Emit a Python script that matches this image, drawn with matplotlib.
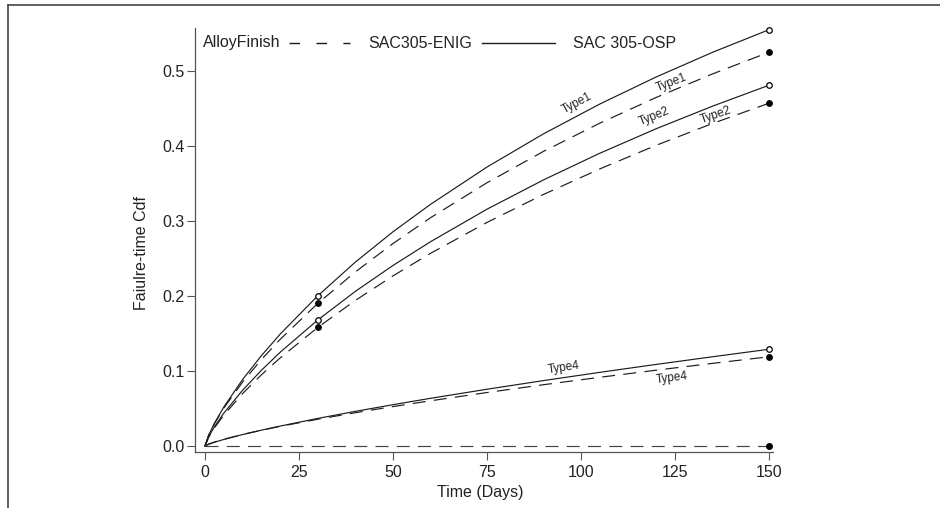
import matplotlib
matplotlib.use("Agg")
import matplotlib.pyplot as plt
from matplotlib.lines import Line2D

plt.rcParams['font.family'] = ['Liberation Sans', 'DejaVu Sans']

# ---- failure-time CDF estimates, by alloy/finish and test type ----
days = [0, 1, 2.5, 5, 10, 15, 20, 30, 40, 50, 60, 75, 90, 105, 120, 135, 150]

osp_type1 = [0.0, 0.0146, 0.0301, 0.0519, 0.0886, 0.1204, 0.1492, 0.2002, 0.2452,
             0.2856, 0.3222, 0.3719, 0.4161, 0.4559, 0.4920, 0.5249, 0.555]
enig_type1 = [0.0, 0.0145, 0.0296, 0.0504, 0.0852, 0.1152, 0.1422, 0.1901, 0.2321,
              0.2699, 0.3044, 0.3510, 0.3927, 0.4304, 0.4647, 0.4961, 0.525]
osp_type2 = [0.0, 0.0125, 0.0255, 0.0437, 0.0743, 0.1009, 0.1250, 0.1680, 0.2062,
             0.2407, 0.2724, 0.3157, 0.3547, 0.3903, 0.4230, 0.4531, 0.481]
enig_type2 = [0.0, 0.0118, 0.0240, 0.0411, 0.0699, 0.0949, 0.1175, 0.1581, 0.1941,
              0.2268, 0.2569, 0.2981, 0.3353, 0.3694, 0.4009, 0.4300, 0.457]
osp_type4 = [0.0, 0.0024, 0.0050, 0.0087, 0.0153, 0.0211, 0.0266, 0.0368, 0.0462,
             0.0551, 0.0636, 0.0757, 0.0872, 0.0982, 0.1088, 0.1190, 0.129]
enig_type4 = [0.0, 0.0026, 0.0053, 0.0090, 0.0154, 0.0210, 0.0262, 0.0357, 0.0444,
              0.0526, 0.0603, 0.0713, 0.0817, 0.0916, 0.1011, 0.1102, 0.119]
# no failures for this group
enig_type3_days = [0, 150]
enig_type3 = [0.0, 0.0]

x_ticks = [0, 25, 50, 75, 100, 125, 150]
y_ticks = [0.0, 0.1, 0.2, 0.3, 0.4, 0.5]

DARK = '#1c1c1c'
AXIS = '#555555'
DASH = (0, (11, 7))

fig = plt.figure(figsize=(9.4, 5.08), dpi=100)
ax = fig.add_axes([0.2074, 0.1102, 0.6149, 0.8347])

curves = [
    (osp_type1, '-', [30, 150], False),
    (enig_type1, DASH, [30, 150], True),
    (osp_type2, '-', [30, 150], False),
    (enig_type2, DASH, [30, 150], True),
    (osp_type4, '-', [150], False),
    (enig_type4, DASH, [150], True),
]
for vals, ls, mark_days, filled in curves:
    ax.plot(days, vals, ls=ls, color=DARK, lw=0.85)
    mx = [d for d in days if d in mark_days]
    my = [v for d, v in zip(days, vals) if d in mark_days]
    ax.plot(mx, my, 'o', ms=4, mew=0.9, mec='black',
            mfc='black' if filled else 'white', clip_on=False, zorder=5)

ax.plot(enig_type3_days, enig_type3, ls=DASH, color='#444444', lw=0.85)
ax.plot(enig_type3_days[-1:], enig_type3[-1:], 'o', ms=4, color='black',
        clip_on=False, zorder=5)

# curve annotations
labels = [
    ('Type1', 98.9, 0.457, 28),
    ('Type1', 124.2, 0.484, 21),
    ('Type2', 119.4, 0.439, 22),
    ('Type2', 135.9, 0.441, 19),
    ('Type4', 95.5, 0.104, 8),
    ('Type4', 124.2, 0.0907, 7),
]
for txt, tx, ty, rot in labels:
    ax.text(tx, ty, txt, rotation=rot, rotation_mode='anchor', ha='center',
            va='center', fontsize=8.5, color='#222222')

ax.set_xlim(-2.66, 151.06)
ax.set_ylim(-0.008, 0.5573)
ax.set_xticks(x_ticks)
ax.set_yticks(y_ticks)
ax.set_yticklabels([f'{v:.1f}' for v in y_ticks])
for side in ['top', 'right']:
    ax.spines[side].set_visible(False)
for side in ['left', 'bottom']:
    ax.spines[side].set_color(AXIS)
    ax.spines[side].set_linewidth(0.9)
ax.tick_params(axis='y', length=6, width=0.8, pad=1.5, color=AXIS,
               labelsize=11.5, labelcolor='#222222')
ax.tick_params(axis='x', length=6, width=0.8, pad=3.5, color=AXIS,
               labelsize=11.5, labelcolor='#222222')

fig.text(142 / 940, 1 - 253 / 508, 'Faiulre-time Cdf', rotation=90,
         ha='center', va='center', fontsize=11.5, color='#222222')
fig.text(480 / 940, 1 - 493 / 508, 'Time (Days)', ha='center', va='center',
         fontsize=11.5, color='#222222')

# key along the top
ky = 1 - 43 / 508
fig.text(203 / 940, ky, 'AlloyFinish', ha='left', va='center', fontsize=11.5,
         color='#222222')
fig.add_artist(Line2D([289 / 940, 350 / 940], [ky, ky], transform=fig.transFigure,
                      color=DARK, lw=1.0, ls=(0, (7.6, 11.8))))
fig.text(368 / 940, ky, 'SAC305-ENIG', ha='left', va='center', fontsize=11.5,
         color='#222222')
fig.add_artist(Line2D([482 / 940, 555 / 940], [ky, ky], transform=fig.transFigure,
                      color=DARK, lw=1.0))
fig.text(573 / 940, ky, 'SAC 305-OSP', ha='left', va='center', fontsize=11.5,
         color='#222222')

# outer frame (left and top edges)
fig.add_artist(Line2D([8 / 940, 8 / 940], [0, 1 - 4.5 / 508],
                      transform=fig.transFigure, color='#444444', lw=1.2))
fig.add_artist(Line2D([8 / 940, 1], [1 - 4.5 / 508, 1 - 4.5 / 508],
                      transform=fig.transFigure, color='#444444', lw=1.2))

fig.savefig('out.png', dpi=100)
